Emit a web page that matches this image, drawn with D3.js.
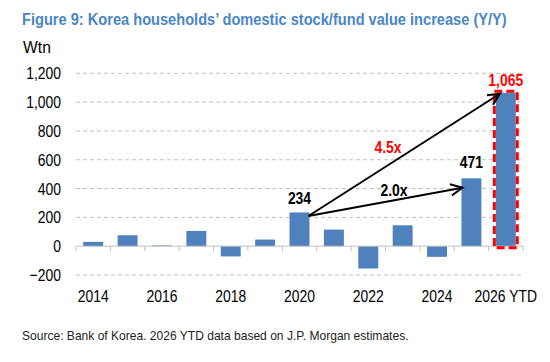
<!DOCTYPE html>
<html>
<head>
<meta charset="utf-8">
<script src="https://cdn.jsdelivr.net/npm/d3@7"></script>
<style>
  body { margin: 0; background: #fff; }
  text { font-family: "Liberation Sans", Arial, sans-serif; }
</style>
</head>
<body>
<div id="chart"></div>
<script>
// data
const years = ["2014", "2015", "2016", "2017", "2018", "2019", "2020", "2021", "2022", "2023", "2024", "2025", "2026"];
const values = [30, 76, 5, 106, -71, 46, 234, 115, -155, 145, -74, 471, 1065];
const yTicks = [-200, 0, 200, 400, 600, 800, 1000, 1200];
const xLabels = { "2014": "2014", "2016": "2016", "2018": "2018", "2020": "2020", "2022": "2022", "2024": "2024", "2026": "2026 YTD" };

const NARROW = 0.82; // mimic Arial Narrow

const svg = d3.select("#chart")
    .append("svg")
    .attr("width", 550)
    .attr("height", 362);

const x = d3.scaleBand()
    .domain(years)
    .range([76, 523])
    .paddingInner(0.42)
    .paddingOuter(0.21);

const y = d3.scaleLinear()
    .domain([-200, 1200])
    .range([275, 73.3]);

// squeeze a text horizontally around its anchor
function squeeze(sel, f) {
    sel.each(function () {
        const t = d3.select(this);
        const tx = +t.attr("x") || 0;
        t.attr("x", tx / f).attr("transform", `scale(${f},1)`);
    });
}

function addText(px, py, str, size, opts = {}) {
    const t = svg.append("text")
        .attr("x", px)
        .attr("y", py)
        .attr("text-anchor", opts.anchor || "start")
        .style("font-size", size + "px")
        .style("font-weight", opts.bold ? "bold" : "normal")
        .style("fill", opts.color || "#000")
        .text(str);
    if (opts.width) {
        const f = opts.width / t.node().getComputedTextLength();
        squeeze(t, f);
    } else if (opts.f) {
        squeeze(t, opts.f);
    }
    return t;
}

// title
addText(22, 25, "Figure 9: Korea households\u2019 domestic stock/fund value increase (Y/Y)", 17,
    { bold: true, color: "#4a86c6", width: 485 });

addText(23, 53, "Wtn", 16.5, { f: 0.95 });

// gridlines
svg.append("g")
    .selectAll("line")
    .data(yTicks.filter(d => d !== 0))
    .enter()
    .append("line")
    .attr("x1", 76)
    .attr("x2", 523)
    .attr("y1", d => y(d))
    .attr("y2", d => y(d))
    .attr("stroke", "#c0c0c0")
    .attr("stroke-dasharray", "4,3")
    .attr("stroke-width", 1);

// y labels
yTicks.forEach(v => {
    addText(61, y(v) + 6, d3.format(",")(v), 17, { anchor: "end", f: NARROW });
});

// bars
svg.selectAll(".bar")
    .data(years)
    .enter()
    .append("rect")
    .attr("x", d => x(d))
    .attr("y", (d, i) => y(Math.max(0, values[i])))
    .attr("width", x.bandwidth())
    .attr("height", (d, i) => Math.abs(y(values[i]) - y(0)))
    .attr("fill", "#4f81bd");

// zero axis with category ticks
const step = x.step();
const zero = svg.append("g");
zero.append("line")
    .attr("x1", 76).attr("x2", 523)
    .attr("y1", y(0)).attr("y2", y(0))
    .attr("stroke", "#bfbfbf");
zero.selectAll(".tk")
    .data(d3.range(years.length + 1))
    .enter()
    .append("line")
    .attr("x1", i => 76 + i * step)
    .attr("x2", i => 76 + i * step)
    .attr("y1", y(0))
    .attr("y2", y(0) + 5)
    .attr("stroke", "#bfbfbf");

// x labels
years.filter(d => xLabels[d]).forEach(d => {
    addText(x(d) + x.bandwidth() / 2, 302, xLabels[d], 17, { anchor: "middle", f: NARROW });
});

// red dashed box around 2026
const i26 = years.indexOf("2026");
svg.append("rect")
    .attr("x", x("2026") - 1.5)
    .attr("y", y(values[i26]) - 1.5)
    .attr("width", x.bandwidth() + 3)
    .attr("height", y(0) - y(values[i26]) + 3)
    .attr("fill", "none")
    .attr("stroke", "#ff0000")
    .attr("stroke-width", 3)
    .attr("stroke-dasharray", "8,4");

// value labels
function valueLabel(year, txt, color, dy) {
    const i = years.indexOf(year);
    addText(x(year) + x.bandwidth() / 2, y(values[i]) + dy, txt, 17,
        { anchor: "middle", bold: true, color: color, f: NARROW });
}
valueLabel("2020", "234", "#000", -8);
valueLabel("2025", "471", "#000", -10);
valueLabel("2026", "1,065", "#ff0000", -7);

// arrows
function arrow(x1, y1, x2, y2) {
    svg.append("line")
        .attr("x1", x1).attr("y1", y1)
        .attr("x2", x2).attr("y2", y2)
        .attr("stroke", "#000")
        .attr("stroke-width", 2);
    const a = Math.atan2(y2 - y1, x2 - x1);
    const len = 13, spread = 0.45;
    const p1 = [x2 - len * Math.cos(a - spread), y2 - len * Math.sin(a - spread)];
    const p2 = [x2 - len * Math.cos(a + spread), y2 - len * Math.sin(a + spread)];
    svg.append("path")
        .attr("d", d3.line()([p1, [x2, y2], p2]))
        .attr("fill", "none")
        .attr("stroke", "#000")
        .attr("stroke-width", 2);
}
const sx = x("2020") + x.bandwidth() - 1;
const sy = y(values[years.indexOf("2020")]) + 3.5;
arrow(sx, sy, x("2025") + 1, y(406));
arrow(sx, sy, x("2026") + 4, y(1065) + 1);

addText(394, 196, "2.0x", 17, { anchor: "middle", bold: true, f: NARROW });
addText(388, 153, "4.5x", 17, { anchor: "middle", bold: true, color: "#ff0000", f: NARROW });

// source
addText(22, 340, "Source: Bank of Korea. 2026 YTD data based on J.P. Morgan estimates.", 12.5,
    { color: "#222", width: 387 });
</script>
</body>
</html>
